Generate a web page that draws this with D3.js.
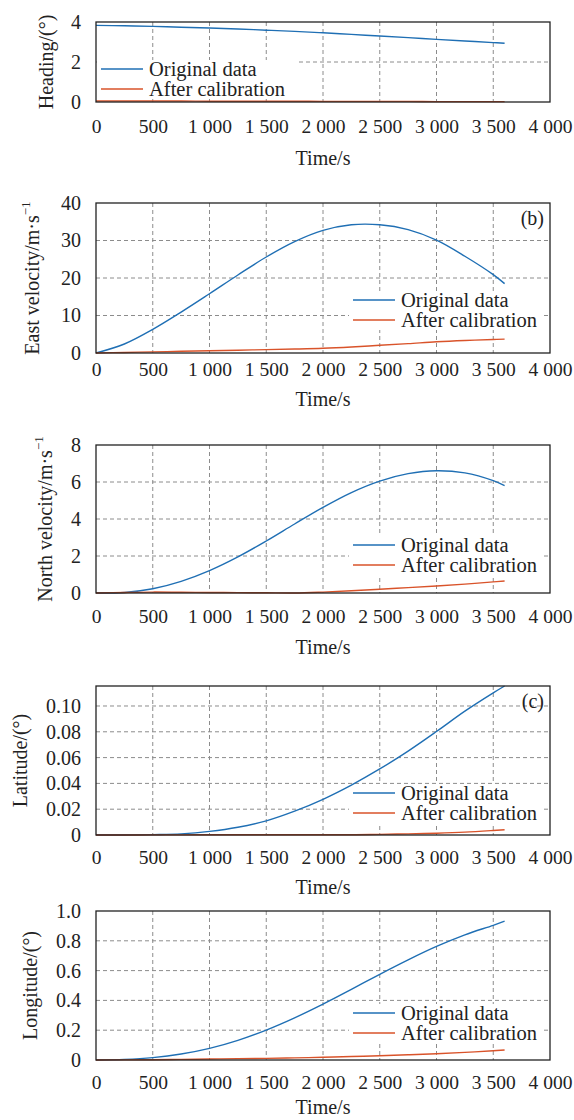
<!DOCTYPE html>
<html>
<head>
<meta charset="utf-8">
<script src="https://cdn.jsdelivr.net/npm/d3@7"></script>
<style>
  body { margin: 0; background: #fff; }
  svg { display: block; }
  svg text { font-family: "Liberation Serif", "DejaVu Serif", serif !important; fill: #222; }
</style>
</head>
<body>
<div id="chart"></div>
<script>
const width = 574;
const height = 1120;

// time axis
const time = [0, 250, 500, 750, 1000, 1250, 1500, 1750, 2000, 2250, 2500, 2750, 3000, 3250, 3500, 3600];
const xTicks = [0, 500, 1000, 1500, 2000, 2500, 3000, 3500, 4000];
const xTickLabels = ["0", "500", "1 000", "1 500", "2 000", "2 500", "3 000", "3 500", "4 000"];

// heading (deg)
const headingOrig  = [3.83, 3.81, 3.78, 3.74, 3.70, 3.65, 3.59, 3.53, 3.46, 3.38, 3.30, 3.22, 3.13, 3.05, 2.97, 2.94];
const headingCalib = [0.05, 0.05, 0.05, 0.05, 0.04, 0.04, 0.04, 0.04, 0.03, 0.03, 0.03, 0.03, 0.02, 0.02, 0.02, 0.02];
const headingTicks = [0, 2, 4];

// east velocity (m/s)
const eastOrig  = [0, 2.4, 6.3, 10.9, 15.8, 20.8, 25.6, 29.7, 32.7, 34.2, 34.2, 32.9, 30.1, 25.8, 20.9, 18.5];
const eastCalib = [0, 0.15, 0.3, 0.45, 0.6, 0.75, 0.9, 1.05, 1.25, 1.6, 2.05, 2.5, 3.0, 3.35, 3.6, 3.7];
const eastTicks = [0, 10, 20, 30, 40];

// north velocity (m/s)
const northOrig  = [0, 0.03, 0.23, 0.63, 1.21, 1.95, 2.81, 3.73, 4.63, 5.43, 6.05, 6.45, 6.61, 6.49, 6.07, 5.80];
const northCalib = [0, 0.03, 0.05, 0.04, 0.03, 0.02, 0.01, 0.0, 0.05, 0.12, 0.2, 0.29, 0.38, 0.48, 0.6, 0.65];
const northTicks = [0, 2, 4, 6, 8];

// latitude (deg)
const latOrig  = [0, 0, 0.0003, 0.0009, 0.0028, 0.006, 0.011, 0.0185, 0.0277, 0.0387, 0.0512, 0.065, 0.0802, 0.096, 0.1102, 0.1155];
const latCalib = [0, 0, 0.0001, 0.0001, 0.0002, 0.0002, 0.0002, 0.0002, 0.0002, 0.0002, 0.0005, 0.0009, 0.0014, 0.0022, 0.0035, 0.0041];
const latTicks = [0, 0.02, 0.04, 0.06, 0.08, 0.10];
const latTickLabels = ["0", "0.02", "0.04", "0.06", "0.08", "0.10"];

// longitude (deg)
const lonOrig  = [0, 0.004, 0.016, 0.04, 0.078, 0.132, 0.201, 0.283, 0.375, 0.474, 0.575, 0.672, 0.762, 0.840, 0.904, 0.932];
const lonCalib = [0, 0.001, 0.002, 0.004, 0.007, 0.009, 0.011, 0.014, 0.018, 0.023, 0.029, 0.035, 0.042, 0.051, 0.062, 0.067];
const lonTicks = [0, 0.2, 0.4, 0.6, 0.8, 1.0];
const lonTickLabels = ["0", "0.2", "0.4", "0.6", "0.8", "1.0"];

const seriesNames = ["Original data", "After calibration"];

const blue = "#1f6fb4";
const red = "#d9532a";
const gridColor = "#8c8c8c";
const serif = "Liberation Serif";

const left = 96, right = 550;

const svg = d3.select("#chart").append("svg")
    .attr("width", width)
    .attr("height", height);

const xScale = d3.scaleLinear().domain([0, 4000]).range([left, right]);

function drawPanel(p) {
  let yScale = d3.scaleLinear().domain(p.domain).range([p.bottom, p.top]);
  let g = svg.append("g");

  // grid
  g.append("g")
    .selectAll("line")
    .data(xTicks.slice(1, -1))
    .join("line")
      .attr("x1", d => xScale(d))
      .attr("x2", d => xScale(d))
      .attr("y1", p.top)
      .attr("y2", p.bottom)
      .attr("stroke", gridColor)
      .attr("stroke-width", 1)
      .attr("stroke-dasharray", "4,3");

  g.append("g")
    .selectAll("line")
    .data(p.ticks.filter(d => d > p.domain[0] && d < p.domain[1]))
    .join("line")
      .attr("x1", left)
      .attr("x2", right)
      .attr("y1", d => yScale(d))
      .attr("y2", d => yScale(d))
      .attr("stroke", gridColor)
      .attr("stroke-width", 1)
      .attr("stroke-dasharray", "4,3");

  // legend background (covers grid)
  g.append("rect")
    .attr("x", p.legX - 4)
    .attr("y", p.legY - 9)
    .attr("width", p.legW)
    .attr("height", 39)
    .attr("fill", "#fff");

  // axes (labels only)
  let xAxis = g.append("g")
    .attr("transform", "translate(0," + p.bottom + ")")
    .call(d3.axisBottom(xScale).tickValues(xTicks).tickSize(0).tickPadding(p.xPad)
      .tickFormat((d, i) => xTickLabels[i]));
  xAxis.select(".domain").remove();
  xAxis.attr("font-family", serif).attr("font-size", 19.5);
  xAxis.selectAll("text").attr("fill", "#222");

  let yAxis = g.append("g")
    .attr("transform", "translate(" + left + ",0)")
    .call(d3.axisLeft(yScale).tickValues(p.ticks).tickSize(0).tickPadding(15)
      .tickFormat((d, i) => p.tickLabels[i]));
  yAxis.select(".domain").remove();
  yAxis.attr("font-family", serif).attr("font-size", 20);
  yAxis.selectAll("text").attr("fill", "#222");

  // lines
  let line = d3.line()
    .x((d, i) => xScale(time[i]))
    .y(d => yScale(d))
    .curve(d3.curveCatmullRom.alpha(0.5));

  g.append("path")
    .attr("d", line(p.orig))
    .attr("fill", "none")
    .attr("stroke", blue)
    .attr("stroke-width", 1.4);

  g.append("path")
    .attr("d", line(p.calib))
    .attr("fill", "none")
    .attr("stroke", red)
    .attr("stroke-width", 1.4);

  // frame
  g.append("rect")
    .attr("x", left)
    .attr("y", p.top)
    .attr("width", right - left)
    .attr("height", p.bottom - p.top)
    .attr("fill", "none")
    .attr("stroke", "#222")
    .attr("stroke-width", 1.3);

  // legend
  let lg = g.append("g");
  [p.legY, p.legY + 20].forEach(function(y, i) {
    lg.append("line")
      .attr("x1", p.legX)
      .attr("x2", p.legX + 42)
      .attr("y1", y)
      .attr("y2", y)
      .attr("stroke", i == 0 ? blue : red)
      .attr("stroke-width", 1.4);
    lg.append("text")
      .attr("x", p.legX + 48)
      .attr("y", y)
      .attr("dy", "0.35em")
      .attr("font-family", serif)
      .attr("font-size", 20.5)
      .text(seriesNames[i]);
  });

  // panel tag
  if (p.tag) {
    g.append("text")
      .attr("x", right - 6)
      .attr("y", p.top + 15)
      .attr("dy", "0.35em")
      .attr("text-anchor", "end")
      .attr("font-family", serif)
      .attr("font-size", 20)
      .text(p.tag);
  }

  // y title
  let yt = g.append("text")
    .attr("transform", "translate(" + p.titleX + "," + ((p.top + p.bottom) / 2) + ") rotate(-90)")
    .attr("text-anchor", "middle")
    .attr("dy", "0.35em")
    .attr("font-family", serif)
    .attr("font-size", 20);
  yt.append("tspan").text(p.title);
  if (p.sup) {
    yt.append("tspan")
      .attr("font-size", 13)
      .attr("dy", "-0.7em")
      .text(p.sup);
  }

  // x title
  g.append("text")
    .attr("x", (left + right) / 2)
    .attr("y", p.bottom + p.xTitleGap)
    .attr("dy", "0.35em")
    .attr("text-anchor", "middle")
    .attr("font-family", serif)
    .attr("font-size", 20)
    .text("Time/s");
}

const panels = [
  { top: 22, bottom: 102, domain: [0, 4], ticks: headingTicks, tickLabels: headingTicks.map(String),
    orig: headingOrig, calib: headingCalib, legX: 101, legY: 69, legW: 199,
    title: "Heading/(°)", titleX: 46, xTitleGap: 56, xPad: 17 },
  { top: 203, bottom: 353, domain: [0, 40], ticks: eastTicks, tickLabels: eastTicks.map(String),
    orig: eastOrig, calib: eastCalib, legX: 353, legY: 300, legW: 194, tag: "(b)",
    title: "East velocity/m·s", sup: "−1", titleX: 32, xTitleGap: 46, xPad: 9 },
  { top: 445, bottom: 593, domain: [0, 8], ticks: northTicks, tickLabels: northTicks.map(String),
    orig: northOrig, calib: northCalib, legX: 353, legY: 545, legW: 194,
    title: "North velocity/m·s", sup: "−1", titleX: 45, xTitleGap: 54, xPad: 16 },
  { top: 686, bottom: 835, domain: [0, 0.1155], ticks: latTicks, tickLabels: latTickLabels,
    orig: latOrig, calib: latCalib, legX: 353, legY: 793, legW: 194, tag: "(c)",
    title: "Latitude/(°)", titleX: 20, xTitleGap: 52, xPad: 15 },
  { top: 911, bottom: 1060, domain: [0, 1], ticks: lonTicks, tickLabels: lonTickLabels,
    orig: lonOrig, calib: lonCalib, legX: 353, legY: 1013, legW: 194,
    title: "Longitude/(°)", titleX: 30, xTitleGap: 47, xPad: 15 }
];

panels.forEach(drawPanel);
</script>
</body>
</html>
